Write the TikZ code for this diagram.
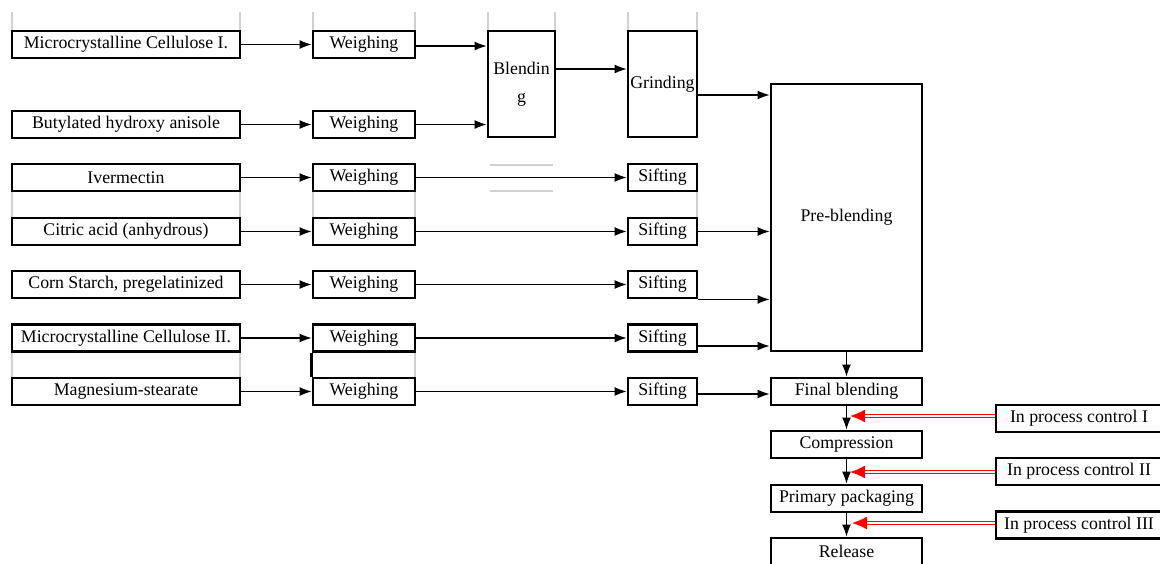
\documentclass[tikz,border=0pt]{standalone}
\usepackage{fontspec}
\setmainfont{Liberation Serif}
\usetikzlibrary{arrows.meta}
\usetikzlibrary{calc}
\tikzstyle{box} = [draw,line width=2.9pt,minimum height=27pt,inner sep=0pt]
\tikzstyle{src} = [box,minimum width=228pt]
\tikzstyle{wgh} = [box,minimum width=102pt]
\tikzstyle{sft} = [box,minimum width=69pt]
\tikzstyle{stage} = [box,minimum width=151pt]
\tikzstyle{ctl} = [box,minimum width=166pt]
\tikzstyle{flow} = [->,line width=1.1pt]
\tikzstyle{ipc} = [draw=red,double=white,double distance=2pt,line width=1.2pt,-{Latex[length=15pt,width=13pt]}]
\tikzstyle{grid} = [draw=black!18,line width=1.2pt]

\begin{document}
\begin{tikzpicture}[x=1pt,y=-1pt,>={Latex[length=12pt,width=9pt]},font=\fontsize{17.8}{21}\selectfont]

\useasboundingbox (0,0) rectangle (1160,563);

% Faint table lines

    \foreach \x in {12,240,313,415,488,555,628,697}
        \draw[grid] (\x,12) -- (\x,31);
    \foreach \x in {12,240,313,415,697}
        \draw[grid] (\x,191) -- (\x,218);
    \foreach \x in {12,240,415}
        \draw[grid] (\x,351) -- (\x,378);
    \draw[grid] (490,165) -- (553,165);
    \draw[grid] (490,191) -- (553,191);

% Draw raw materials, weighing and sifting

    \node[src] at (126,44.5) (mcc1) {Microcrystalline Cellulose I.};
    \node[src] at (126,124.5) (bha) {Butylated hydroxy anisole};
    \node[src] at (126,177.5) (iver) {Ivermectin};
    \node[src] at (126,231.5) (citric) {Citric acid (anhydrous)};
    \node[src] at (126,284.5) (starch) {Corn Starch, pregelatinized};
    \node[src] at (126,338) (mcc2) {Microcrystalline Cellulose II.};
    \node[src] at (126,391.5) (mgst) {Magnesium-stearate};

    \node[wgh] at (364,44.5) (w1) {Weighing};
    \node[wgh] at (364,124.5) (w2) {Weighing};
    \node[wgh] at (364,177.5) (w3) {Weighing};
    \node[wgh] at (364,231.5) (w4) {Weighing};
    \node[wgh] at (364,284.5) (w5) {Weighing};
    \node[wgh] at (364,338) (w6) {Weighing};
    \node[wgh] at (364,391.5) (w7) {Weighing};
    \draw[line width=2.9pt] (w6.south west) -- (w7.north west);

    \node[box,minimum width=67pt,minimum height=106pt,align=center] at (521.5,84) (blend) {Blendin\\[7pt]g};
    \node[box,minimum width=69pt,minimum height=106pt] at (662.5,84) (grind) {Grinding};

    \node[sft] at (662.5,177.5) (s3) {Sifting};
    \node[sft] at (662.5,231.5) (s4) {Sifting};
    \node[sft] at (662.5,284.5) (s5) {Sifting};
    \node[sft] at (662.5,338) (s6) {Sifting};
    \node[sft] at (662.5,391.5) (s7) {Sifting};

% Draw process stages and controls

    \node[stage,minimum height=267pt] at (846.5,217.5) (pre) {Pre-blending};
    \node[stage] at (846.5,391.5) (final) {Final blending};
    \node[stage] at (846.5,444.5) (comp) {Compression};
    \node[stage] at (846.5,498.5) (pack) {Primary packaging};
    \node[stage] at (846.5,551.5) (rel) {Release};

    \node[ctl] at (1079,418.5) (ipc1) {In process control I};
    \node[ctl] at (1079,471.5) (ipc2) {In process control II};
    \node[ctl] at (1079,525) (ipc3) {In process control III};
    \coordinate (m1) at (850,416);
    \coordinate (m2) at (850,472);
    \coordinate (m3) at (852,523);

% Connectors

    \draw[flow] (mcc1) -- (w1);
    \draw[flow] (bha) -- (w2);
    \draw[flow] (iver) -- (w3);
    \draw[flow] (citric) -- (w4);
    \draw[flow] (starch) -- (w5);
    \draw[flow] (mcc2) -- (w6);
    \draw[flow] (mgst) -- (w7);

    \draw[flow] ([yshift=-1.5pt]w1.east) -- ([yshift=-1.5pt]w1.east -| blend.west);
    \draw[flow] (w2.east) -- (w2.east -| blend.west);
    \draw[flow] ([yshift=15pt]blend.east) -- ([yshift=15pt]blend.east -| grind.west);
    \draw[flow] ([yshift=-11pt]grind.east) -- ([yshift=-11pt]grind.east -| pre.west);

    \draw[flow] (w3) -- (s3);
    \draw[flow] (w4) -- (s4);
    \draw[flow] (w5) -- (s5);
    \draw[flow] (w6) -- (s6);
    \draw[flow] (w7) -- (s7);

    \draw[flow] (s4) -- (s4 -| pre.west);
    \draw[flow] (s5.south east) -- (s5.south east -| pre.west);
    \draw[flow] ([yshift=-8pt]s6.east) -- ([yshift=-8pt]s6.east -| pre.west);
    \draw[flow] ([yshift=-2.5pt]s7.east) -- ([yshift=-2.5pt]s7.east -| final.west);

    \draw[flow] (pre) -- (final);
    \draw[flow] (final) -- (comp);
    \draw[flow] (comp) -- (pack);
    \draw[flow] (pack) -- (rel);

    \draw[ipc] (ipc1.west |- m1) -- (m1);
    \draw[ipc] (ipc2.west |- m2) -- (m2);
    \draw[ipc] (ipc3.west |- m3) -- (m3);

\end{tikzpicture}
\end{document}
